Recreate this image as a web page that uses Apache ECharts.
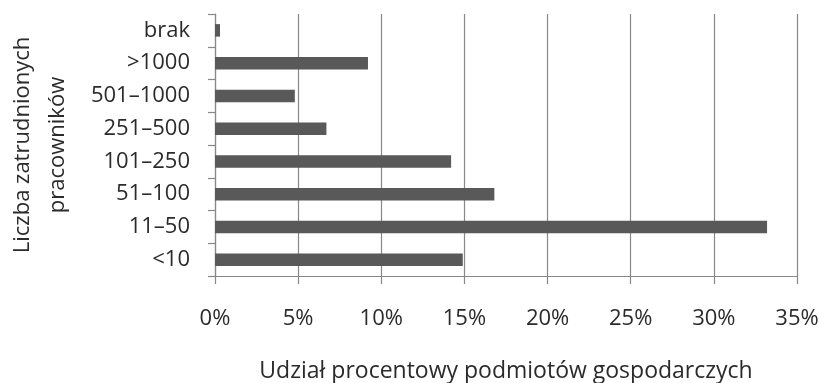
<!DOCTYPE html>
<html>
<head>
<meta charset="utf-8">
<script src="https://cdn.jsdelivr.net/npm/echarts@6/dist/echarts.min.js"></script>
<style>
  html, body { margin: 0; padding: 0; background: #fff; }
  #chart { width: 823px; height: 383px; }
</style>
</head>
<body>
<div id="chart"></div>
<script>
// Employment size classes, bottom to top
const categories = ['<10', '11–50', '51–100', '101–250', '251–500', '501–1000', '>1000', 'brak'];
// Share of business entities in each class (%)
const shares = [14.9, 33.2, 16.8, 14.2, 6.7, 4.8, 9.2, 0.3];
// Value axis ticks (%)
const xTicks = [0, 5, 10, 15, 20, 25, 30, 35];

const FONT = 'Open Sans';
const TEXT = '#2b2b2b';
const GRID = '#888888';

const chart = echarts.init(document.getElementById('chart'), null, { renderer: 'canvas' });
chart.setOption({
  animation: false,
  grid: { left: 215, right: 26, top: 14, bottom: 107, containLabel: false, outerBoundsMode: 'none' },
  xAxis: {
    type: 'value',
    min: xTicks[0],
    max: xTicks[xTicks.length - 1],
    interval: xTicks[1] - xTicks[0],
    name: 'Udział procentowy podmiotów gospodarczych',
    nameLocation: 'middle',
    nameGap: 84,
    nameTextStyle: { fontFamily: FONT, fontSize: 23, color: TEXT },
    axisLine: { show: true, lineStyle: { color: GRID, width: 1.2 } },
    axisTick: { show: true, length: 8, lineStyle: { color: GRID, width: 1.2 } },
    axisLabel: { formatter: v => v + '%', fontFamily: FONT, fontSize: 22, color: TEXT, margin: 32 },
    splitLine: { show: true, lineStyle: { color: GRID, width: 1.2 } }
  },
  yAxis: {
    type: 'category',
    data: categories,
    boundaryGap: true,
    name: 'Liczba zatrudnionych\npracowników',
    nameLocation: 'middle',
    nameGap: 140,
    nameRotate: 90,
    nameTextStyle: { fontFamily: FONT, fontSize: 22, color: TEXT, lineHeight: 35 },
    axisLine: { show: true, lineStyle: { color: GRID, width: 1.2 } },
    axisTick: { show: true, length: 7, alignWithLabel: false, lineStyle: { color: GRID, width: 1.2 } },
    axisLabel: { fontFamily: FONT, fontSize: 22, color: TEXT, margin: 25 },
    splitLine: { show: false }
  },
  series: [{
    type: 'bar',
    data: shares,
    barWidth: 12.5,
    itemStyle: { color: '#595959' }
  }]
});
</script>
</body>
</html>
